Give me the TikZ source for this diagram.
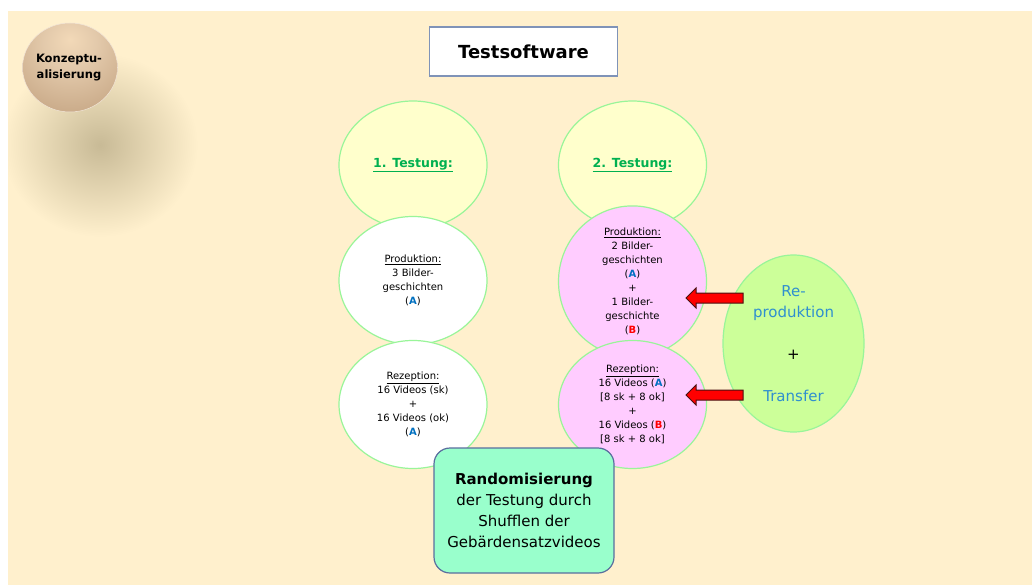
\documentclass[tikz,border=0pt]{standalone}
\usepackage{fontspec}
\setmainfont{DejaVu Sans}
\usetikzlibrary{shapes.geometric}

\definecolor{cream}{HTML}{FFF0CD}
\definecolor{paleyellow}{HTML}{FFFFCC}
\definecolor{rimgreen}{HTML}{99F599}
\definecolor{palepink}{HTML}{FFCCFF}
\definecolor{limegreen}{HTML}{CCFF99}
\definecolor{mint}{HTML}{99FFCC}
\definecolor{boxrim}{HTML}{5A6E9E}
\definecolor{titlerim}{HTML}{7F93B8}
\definecolor{tblue}{HTML}{0070C0}
\definecolor{tgreen}{HTML}{00B050}
\definecolor{skyblue}{HTML}{2F8FCF}
\definecolor{shadowtone}{HTML}{C8BA96}
\definecolor{arrowrim}{HTML}{4A1010}

% brown sphere, highlight near the top
\pgfdeclareradialshading{sphereshade}{\pgfpoint{0bp}{16bp}}{%
  rgb(0bp)=(0.95,0.85,0.72);
  rgb(14bp)=(0.89,0.79,0.67);
  rgb(34bp)=(0.80,0.68,0.55);
  rgb(44bp)=(0.77,0.65,0.52);
  rgb(100bp)=(0.77,0.65,0.52)}

\tikzset{
  testoval/.style={ellipse, draw=rimgreen, line width=1.2pt,
    minimum width=148pt, minimum height=128pt, inner sep=0pt,
    align=center, font=\fontsize{10}{14}\selectfont},
  redarrow/.style={fill=red, draw=arrowrim, line width=1pt, line join=miter},
  hdr/.style={font=\fontsize{12.5}{15}\selectfont\bfseries, text=tgreen}
}
\newcommand{\lblA}{(\textbf{\textcolor{tblue}{A}})}
\newcommand{\lblB}{(\textbf{\textcolor{red}{B}})}
% left-pointing block arrow, tip at #1, tail 57pt to the right
\newcommand{\blockarrowleft}[1]{%
  \draw[redarrow] (#1) -- ++(10,-10) -- ++(0,5) -- ++(47,0) -- ++(0,10)
    -- ++(-47,0) -- ++(0,5) -- cycle;}

\begin{document}
\begin{tikzpicture}[x=1pt,y=-1pt]
\useasboundingbox (0,0) rectangle (1032,585);
\fill[white] (0,0) rectangle (1032,585);
\fill[cream] (8,11) rectangle (1032,585);

% soft shadow under the sphere, kept inside the slide area
\begin{scope}
  \clip (8,11) rectangle (1032,585);
  \shade[inner color=shadowtone, outer color=cream] (100,145) ellipse [x radius=98, y radius=92];
\end{scope}

% sphere
\shade[shading=sphereshade, draw=white!60!brown!50, line width=0.5pt] (70,67.5) ellipse [x radius=47.5, y radius=44.5];
\node[align=center, font=\fontsize{11.5}{16}\selectfont\bfseries] (konz) at (69,68) {Konzeptu-\\alisierung};

% title
\node[draw=titlerim, line width=1.2pt, fill=white, minimum width=188pt, minimum height=49pt,
      font=\fontsize{18}{20}\selectfont\bfseries] (title) at (523.5,51.5) {Testsoftware};

% first testing column
\node[testoval, fill=paleyellow] (t1) at (413,165) {};
\node[hdr] at (t1.center) {\underline{1. Testung:}};
\node[testoval, fill=white] (p1) at (413,280.5) {\underline{Produktion:}\\3 Bilder-\\geschichten\\\lblA};
\node[testoval, fill=white] (r1) at (413,404.5) {\underline{Rezeption:}\\16 Videos (sk)\\+\\16 Videos (ok)\\\lblA};

% second testing column
\node[testoval, fill=paleyellow] (t2) at (632.5,165) {};
\node[hdr] at (t2.center) {\underline{2. Testung:}};
\node[testoval, fill=palepink] (p2) at (632.5,281.5) {\underline{Produktion:}\\2 Bilder-\\geschichten\\\lblA\\+\\1 Bilder-\\geschichte\\\lblB};
\node[testoval, fill=palepink] (r2) at (632.5,404.5) {\underline{Rezeption:}\\16 Videos \lblA\\{[8 sk + 8 ok]}\\+\\16 Videos \lblB\\{[8 sk + 8 ok]}};

% reproduction and transfer
\node[ellipse, draw=rimgreen, line width=1.2pt, fill=limegreen, minimum width=141pt,
      minimum height=177pt, inner sep=0pt, align=center,
      font=\fontsize{15}{21}\selectfont, text=skyblue] (rt) at (793.5,343.5)
      {Re-\\produktion\\[21pt]\textcolor{black}{+}\\[21pt]Transfer};

% arrows into the second column
\coordinate (tipA) at (686,298);
\coordinate (tipB) at (686,395);
\blockarrowleft{tipA}
\blockarrowleft{tipB}

% randomisation box
\node[draw=boxrim, line width=1.2pt, fill=mint, rounded corners=16pt,
      minimum width=180pt, minimum height=125pt, align=center,
      font=\fontsize{15}{21}\selectfont] (rand) at (524,510.5)
      {\textbf{Randomisierung}\\der Testung durch\\Shufflen der\\Gebärdensatzvideos};
\end{tikzpicture}
\end{document}
